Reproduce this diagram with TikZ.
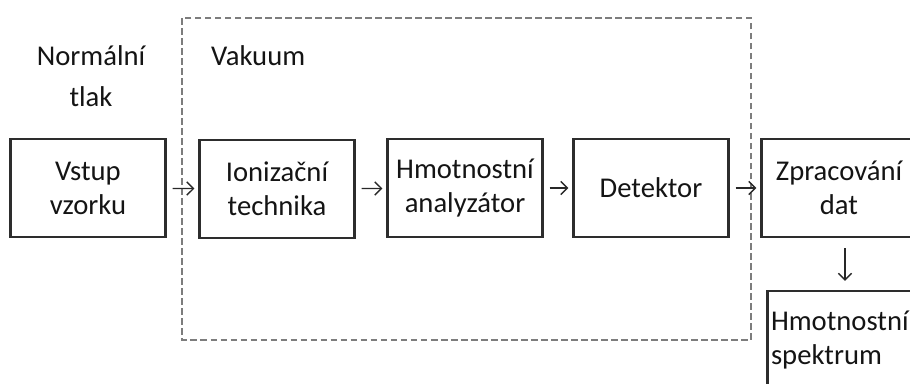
\documentclass[tikz,border=0pt]{standalone}
\usepackage{fontspec}
\setmainfont{Carlito}
\usetikzlibrary{positioning,arrows.meta}
\definecolor{boxline}{RGB}{45,45,45}
\definecolor{vacline}{RGB}{125,125,125}
\definecolor{arrink}{RGB}{40,40,40}

\begin{document}
\begin{tikzpicture}[x=0.02cm,y=-0.02cm,
    every node/.style={font=\fontsize{16.3pt}{19.4pt}\selectfont,text=black!92},
    stage/.style={draw=boxline,line width=1.3pt,minimum width=3.1cm,
      minimum height=1.96cm,align=center,inner sep=0pt},
    flowarr/.style={draw=arrink,line width=0.75pt,
      -{Straight Barb[length=3.8pt,width=7.5pt]},shorten <=0.12cm,shorten >=0.08cm}]
  \clip (0,0) rectangle (910,383);
  \draw[vacline,line width=1.3pt,dash pattern=on 3.8pt off 1.9pt]
    (182,18) rectangle (751,340);
  \node (tlak) [align=center] at (91,76) {Normální\\[4pt]tlak};
  \node (vak) [anchor=base west] at (205,65) {Vakuum};
  \node[stage] (vstup)  at (88,188)  {Vstup\\vzorku};
  \node[stage] (ioniz)  at (277,189) {Ionizační\\technika};
  \node[stage] (analyz) at (465,188) {Hmotnostní\\analyzátor};
  \node[stage] (detek)  at (651,188) {Detektor};
  \node[stage] (zprac)  at (839,188) {Zpracování\\dat};
  \node[stage,align=left,text width=2.96cm] (spektr) at (845,340)
    {Hmotnostní\\spektrum};
  \foreach \a/\b in {vstup/ioniz, ioniz/analyz, analyz/detek, detek/zprac}
    \draw[flowarr] (\a) -- (\b);
  \draw[flowarr,shorten <=0.2cm,shorten >=0.18cm]
    (zprac.south -| spektr) -- (spektr.north);
\end{tikzpicture}
\end{document}
